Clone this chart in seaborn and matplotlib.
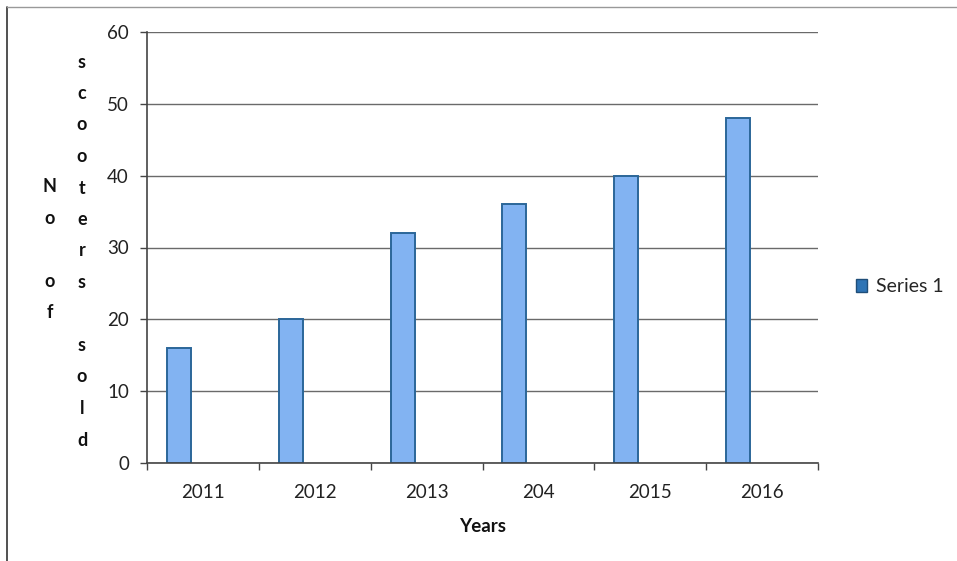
import matplotlib
matplotlib.use("Agg")
import matplotlib.pyplot as plt
from matplotlib.lines import Line2D
from matplotlib.patches import Patch
import seaborn as sns
import pandas as pd
import numpy as np

# ---- data ----
years = ["2011", "2012", "2013", "204", "2015", "2016"]
sold = [16, 20, 32, 36, 40, 48]
series_names = ["Series 1", "Series 2", "Series 3"]
y_ticks = [0, 10, 20, 30, 40, 50, 60]
ylabel_col1 = ["N", "o", "", "o", "f"]
ylabel_col2 = ["s", "c", "o", "o", "t", "e", "r", "s", "", "s", "o", "l", "d"]

sns.set_theme(style="white")
plt.rcParams["font.family"] = ["Lato", "DejaVu Sans"]

fig = plt.figure(figsize=(9.57, 5.61), dpi=100)
ax = fig.add_axes([147 / 957, 1 - 463 / 561, (818 - 147) / 957, (463 - 32) / 561])

df = pd.DataFrame({"Year": years, "Sold": sold, "Series": series_names[0]})
palette = {"Series 1": "#82B3F2", "Series 2": "#C0504D", "Series 3": "#9BBB59"}
sns.barplot(data=df, x="Year", y="Sold", hue="Series", hue_order=series_names,
            order=years, palette=palette, width=0.643, dodge=True, legend=False,
            edgecolor="#2B6699", linewidth=1.4, saturation=1, ax=ax, errorbar=None)

ax.set_ylim(0, 60)
ax.set_xlim(-0.5, len(years) - 0.5)
ax.set_yticks(y_ticks)
ax.set_yticklabels([str(v) for v in y_ticks], fontsize=13.5, color="#222222")
ax.set_xticks(range(len(years)))
ax.set_xticklabels(years, fontsize=13.5, color="#222222")
ax.set_xticks(np.arange(-0.5, len(years), 1.0), minor=True)
ax.tick_params(axis="x", which="major", length=0, pad=15)
ax.tick_params(axis="x", which="minor", length=5, width=1, color="#444444", direction="out", bottom=True)
ax.tick_params(axis="y", which="major", length=5, width=1, color="#444444", direction="out", left=True, pad=8)

ax.grid(axis="y", color="#6a6a6a", linewidth=1)
ax.set_axisbelow(True)
for s in ["top", "right"]:
    ax.spines[s].set_visible(False)
for s in ["left", "bottom"]:
    ax.spines[s].set_color("#444444")
    ax.spines[s].set_linewidth(1.2)

ax.set_xlabel("Years", fontsize=13.5, fontweight="bold", color="#111111", labelpad=12)
ax.set_ylabel("")

# stacked y-axis label
row_px = 31.5
for i, ch in enumerate(ylabel_col1):
    fig.text(50 / 957, 1 - (187 + i * row_px) / 561, ch, ha="center", va="center",
             fontsize=13, fontweight="bold", color="#111111")
for i, ch in enumerate(ylabel_col2):
    fig.text(82 / 957, 1 - (62 + i * row_px) / 561, ch, ha="center", va="center",
             fontsize=13, fontweight="bold", color="#111111")

# legend
handles = [Patch(facecolor="#2E74B5", edgecolor="#1F4E79", label=series_names[0])]
fig.legend(handles=handles, loc="center left", bbox_to_anchor=(838 / 957, 1 - 287 / 561),
           frameon=False, fontsize=14, handlelength=0.6, handleheight=0.6, handletextpad=0.45)

# chart area border (partly cropped)
fig.add_artist(Line2D([7 / 957, 7 / 957], [0, 1 - 7 / 561], transform=fig.transFigure,
                      color="#333333", linewidth=1.2))
fig.add_artist(Line2D([7 / 957, 1], [1 - 7 / 561, 1 - 7 / 561], transform=fig.transFigure,
                      color="#999999", linewidth=1))

fig.savefig("out.png", dpi=100)
